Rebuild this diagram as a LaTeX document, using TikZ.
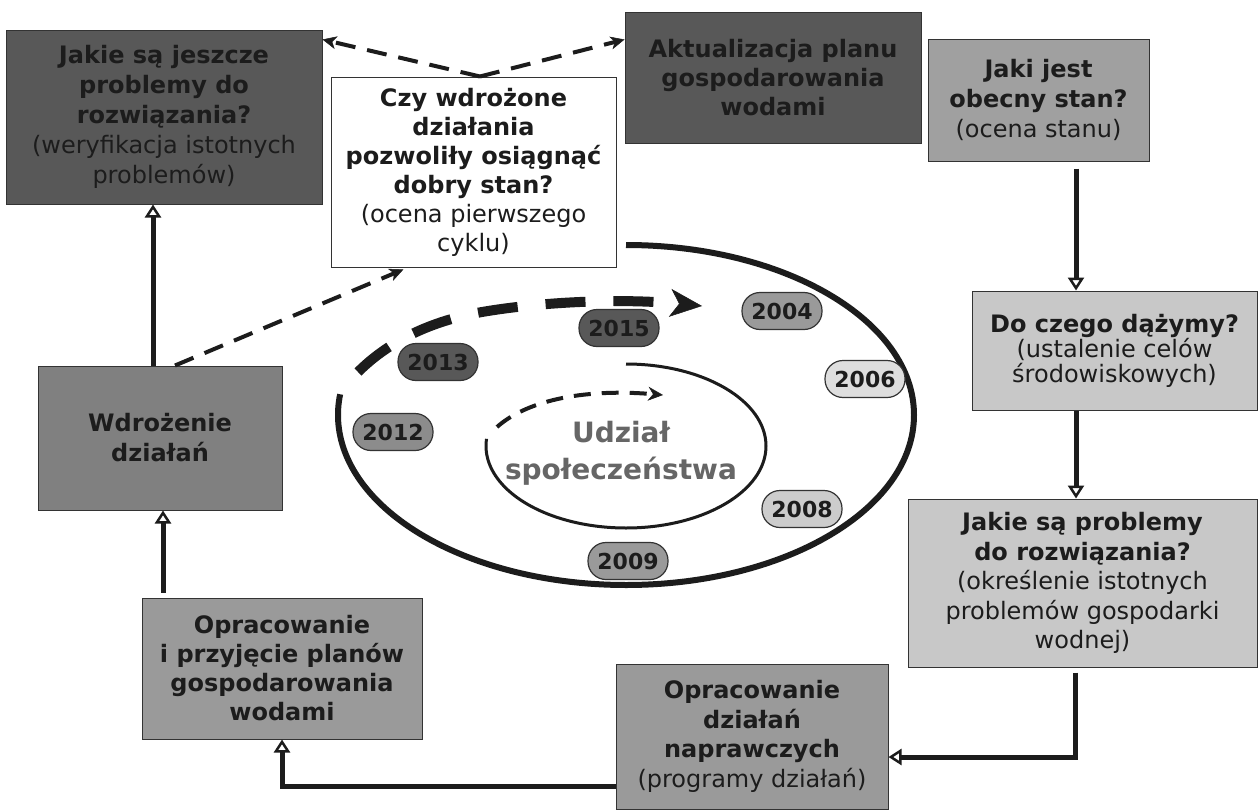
\documentclass[tikz,border=0pt]{standalone}
\usepackage{fontspec}
\setmainfont{DejaVu Sans}
\usetikzlibrary{arrows.meta,calc}
\definecolor{boxdark}{HTML}{585858}
\definecolor{boxmid}{HTML}{9A9A9A}
\definecolor{boxmidb}{HTML}{A0A0A0}
\definecolor{boxwd}{HTML}{808080}
\definecolor{boxlight}{HTML}{C8C8C8}
\definecolor{ink}{HTML}{1C1C1C}
\definecolor{edge}{HTML}{333333}
\definecolor{udz}{HTML}{666666}
\begin{document}
\begin{tikzpicture}[x=1pt,y=-1pt,
  box/.style={draw=edge, line width=1pt, inner sep=0pt, align=center, text=ink,
    font=\fontsize{24}{30}\selectfont},
  yr/.style={draw=edge, line width=1.2pt, rounded corners=18pt, minimum width=80pt,
    minimum height=37pt, inner sep=0pt, text=ink, font=\fontsize{22}{22}\selectfont\bfseries},
  arr/.style={draw=ink, line width=5pt,
    -{Triangle[length=13pt,width=16pt,fill=white,line width=2.5pt]}},
  darr/.style={draw=ink, line width=4pt, dash pattern=on 20pt off 12pt,
    -{Stealth[length=14pt,width=13pt,inset=4pt,line width=0.5pt]}}
]
\useasboundingbox (0,0) rectangle (1259,811);
\fill[white] (0,0) rectangle (1259,811);

% cycles
\draw[ink, line width=6pt] (626,245) arc[start angle=-90,end angle=187,x radius=288,y radius=170];
\draw[ink, line width=3pt] (626,364) arc[start angle=-90,end angle=185,x radius=140,y radius=82];
\draw[ink, line width=4pt, dash pattern=on 17pt off 11pt,
  -{Stealth[length=15pt,width=14pt,inset=5pt,line width=0.5pt]}]
  (497,427) .. controls (525,402) and (580,388) .. (663,395);

\node[font=\fontsize{28}{37}\selectfont\bfseries, text=udz, align=center] (U) at (621,453) {Udział\\społeczeństwa};

% year labels
\node[yr, fill=boxmid] (y2004) at (782,311) {2004};
\node[yr, fill=black!13] (y2006) at (865,379) {2006};
\node[yr, fill=black!20] (y2008) at (802,509) {2008};
\node[yr, fill=boxmid] (y2009) at (628,561) {2009};
\node[yr, fill=black!45] (y2012) at (393,432) {2012};
\node[yr, fill=boxdark] (y2013) at (438,362) {2013};
\node[yr, fill=boxdark] (y2015) at (619,328) {2015};

\draw[ink, line width=10pt, dash pattern=on 40pt off 28pt,
  -{Stealth[length=32pt,width=28pt,inset=9pt,line width=0.5pt]}]
  (358,372) .. controls (385,345) and (425,322) .. (482,312)
  .. controls (540,302) and (620,298) .. (702,306);

% boxes
\node[box, fill=boxdark, minimum width=316pt, minimum height=174pt] (B1) at (164,117)
  {\textbf{Jakie są jeszcze}\\\textbf{problemy do}\\\textbf{rozwiązania?}\\(weryfikacja istotnych\\problemów)};
\node[box, fill=white, minimum width=285pt, minimum height=190pt,
  font=\fontsize{24}{29}\selectfont] (B2) at (473.5,172)
  {\textbf{Czy wdrożone}\\\textbf{działania}\\\textbf{pozwoliły osiągnąć}\\\textbf{dobry stan?}\\(ocena pierwszego\\cyklu)};
\node[box, fill=boxdark, minimum width=296pt, minimum height=131pt,
  font=\fontsize{24}{29}\selectfont\bfseries] (B3) at (773,77.5)
  {Aktualizacja planu\\gospodarowania\\wodami};
\node[box, fill=boxmidb, minimum width=221pt, minimum height=122pt] (B4) at (1038.5,100)
  {\textbf{Jaki jest}\\\textbf{obecny stan?}\\(ocena stanu)};
\node[box, fill=boxlight, minimum width=285pt, minimum height=119pt,
  font=\fontsize{24}{25}\selectfont] (B5) at (1114.5,350.5)
  {\textbf{Do czego dążymy?}\\(ustalenie celów\\środowiskowych)};
\node[box, fill=boxlight, minimum width=349pt, minimum height=168pt,
  font=\fontsize{24}{29.5}\selectfont] (B6) at (1082.5,583)
  {\textbf{Jakie są problemy}\\\textbf{do rozwiązania?}\\(określenie istotnych\\problemów gospodarki\\wodnej)};
\node[box, fill=boxmid, minimum width=272pt, minimum height=145pt,
  font=\fontsize{24}{29.5}\selectfont] (B7) at (752,736.5)
  {\textbf{Opracowanie}\\\textbf{działań}\\\textbf{naprawczych}\\(programy działań)};
\node[box, fill=boxmid, minimum width=280pt, minimum height=141pt,
  font=\fontsize{24}{29}\selectfont\bfseries] (B8) at (282,668.5)
  {Opracowanie\\i przyjęcie planów\\gospodarowania\\wodami};
\node[box, fill=boxwd, minimum width=244pt, minimum height=144pt,
  font=\fontsize{24}{30}\selectfont\bfseries] (B9) at (160,438)
  {Wdrożenie\\działań};

% solid connectors
\draw[arr] ([xshift=37.5pt,yshift=-7pt]B4.south) -- ([xshift=-38.5pt]B5.north);
\draw[arr] ([xshift=-38.5pt]B5.south) -- ([xshift=-6.5pt]B6.north);
\draw[arr] ([xshift=-7.5pt,yshift=-5pt]B6.south) |- ([yshift=-20.5pt]B7.east);
\draw[arr] ([yshift=-49.5pt]B7.west) -| (B8.south);
\draw[arr] ([xshift=-119pt,yshift=5pt]B8.north) -- ([xshift=3pt]B9.south);
\draw[arr] ([xshift=-7pt]B9.north) -- ([xshift=-11pt]B1.south);

% dashed connectors
\draw[darr, shorten >=5pt] ([xshift=15pt]B9.north) -- ([xshift=-65.5pt]B2.south);
\draw[darr] ([xshift=6.5pt]B2.north) -- ([yshift=-10pt]B1.north east);
\draw[darr] ([xshift=6.5pt]B2.north) -- ([yshift=-28pt]B3.north west);
\end{tikzpicture}
\end{document}
